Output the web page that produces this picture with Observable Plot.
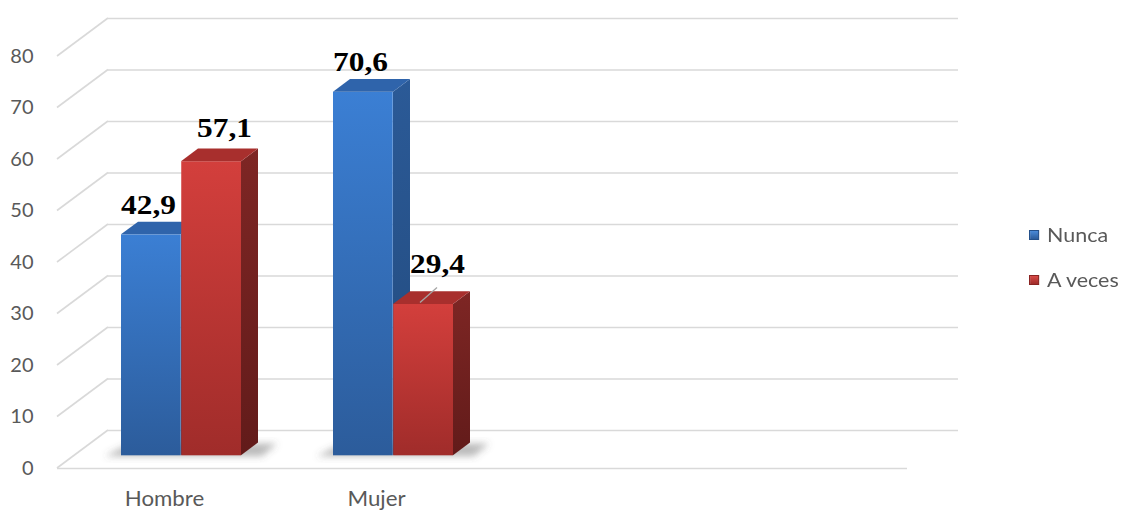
<!DOCTYPE html>
<html><head><meta charset="utf-8">
<script src="https://cdn.jsdelivr.net/npm/d3@7"></script>
<script src="https://cdn.jsdelivr.net/npm/@observablehq/plot@0.6"></script>
<style>
body{margin:0;background:#fff;}
#wrap{position:relative;width:1129px;height:510px;overflow:hidden;}
#legend{position:absolute;left:0;top:0;font-family:Lato,sans-serif;font-size:19px;color:#595959;}
.item{position:absolute;white-space:nowrap;display:flex;align-items:center;transform:scaleX(1.13);transform-origin:0 50%;}
.sw{display:inline-block;width:9px;height:10px;margin-right:7px;box-sizing:border-box;}
</style></head><body>
<svg width="0" height="0" style="position:absolute">
<defs>
<linearGradient id="gBlueFront" x1="0" y1="0" x2="0" y2="1"><stop offset="0" stop-color="#3b7fd4"/><stop offset="1" stop-color="#2c5c9b"/></linearGradient>
<linearGradient id="gBlueSide" x1="0" y1="0" x2="0" y2="1"><stop offset="0" stop-color="#2b5a97"/><stop offset="1" stop-color="#224a7d"/></linearGradient>
<linearGradient id="gRedFront" x1="0" y1="0" x2="0" y2="1"><stop offset="0" stop-color="#d33f3c"/><stop offset="1" stop-color="#a02c2a"/></linearGradient>
<linearGradient id="gRedSide" x1="0" y1="0" x2="0" y2="1"><stop offset="0" stop-color="#7e2624"/><stop offset="1" stop-color="#621b1a"/></linearGradient>
<filter id="fShadow" x="-50%" y="-50%" width="200%" height="200%"><feGaussianBlur stdDeviation="3.5"/></filter>
</defs></svg>
<div id="wrap"><div id="legend"></div></div>
<script>
// ---- data ----
const categories = ["Hombre", "Mujer"];
const categorySlots = ["Hombre", "Mujer", " ", "  "]; // chart has two empty category slots
const series = ["Nunca", "A veces"];
const nunca = [42.9, 70.6];
const aVeces = [57.1, 29.4];
const yTicks = [0, 10, 20, 30, 40, 50, 60, 70, 80];

const data = categories.flatMap((c, i) => [
  {cat: c, series: series[0], value: nunca[i]},
  {cat: c, series: series[1], value: aVeces[i]}
]);

// ---- style / layout ----
const W = 1129, H = 510, ML = 57, MR = 222, MT = 56, MB = 42;
const PAD_IN = 0.433, PAD_OUT = 0.2165;
const WALL_DX = 51, WALL_DY = -38;   // depth of the floor / wall
const BAR_DX = 17, BAR_DY = -12.7;   // depth of a bar
const step = (W - ML - MR) / (categorySlots.length - PAD_IN + 2 * PAD_OUT);
const half = step * (1 - PAD_IN) / 2;
const GRID = "#d9d9d9";
const look = {
  [series[0]]: {front: "url(#gBlueFront)", side: "url(#gBlueSide)", top: "#2f64ab", swatch: "linear-gradient(#4a8ad8,#2c5c9b)", border: "#24508a"},
  [series[1]]: {front: "url(#gRedFront)", side: "url(#gRedSide)", top: "#a82f2d", swatch: "linear-gradient(#d84a46,#a02c2a)", border: "#8a2422"}
};
const fmt = v => v.toFixed(1).replace(".", ",");

const diagonals = (index, scales, values, dims) => {
  const g = d3.create("svg:g").attr("stroke", GRID).attr("stroke-width", 1.6);
  const x0 = dims.marginLeft;
  for (const t of yTicks) {
    const y = scales.y(t);
    g.append("line").attr("x1", x0).attr("y1", y).attr("x2", x0 + WALL_DX).attr("y2", y + WALL_DY);
  }
  return g.node();
};

const shadow = (index, scales) => {
  const g = d3.create("svg:g").attr("filter", "url(#fShadow)").attr("fill", "#555").attr("fill-opacity", 0.4);
  const bw = scales.x.bandwidth();
  const yb = scales.y(0) + BAR_DY;
  for (const c of categories) {
    const xl = scales.x(c) + BAR_DX, xr = xl + bw;
    g.append("polygon").attr("points", [
      [xl - 16, yb + 1], [xl + BAR_DX - 8, yb + BAR_DY + 1],
      [xr + 2 * BAR_DX + 2, yb + BAR_DY + 1], [xr + BAR_DX + 4, yb + 1]
    ].join(" "));
  }
  return g.node();
};

const faces = s => (index, scales) => {
  const g = d3.create("svg:g");
  const bw = scales.x.bandwidth(), h = bw / 2;
  const si = series.indexOf(s);
  for (const d of data.filter(d => d.series === s)) {
    const x0 = scales.x(d.cat) + si * h + BAR_DX, x1 = x0 + h;
    const yt = scales.y(d.value) + BAR_DY, yb = scales.y(0) + BAR_DY;
    g.append("polygon").attr("fill", look[s].side).attr("points",
      [[x1, yb], [x1 + BAR_DX, yb + BAR_DY], [x1 + BAR_DX, yt + BAR_DY], [x1, yt]].join(" "));
    g.append("polygon").attr("fill", look[s].top).attr("points",
      [[x0, yt], [x0 + BAR_DX, yt + BAR_DY], [x1 + BAR_DX, yt + BAR_DY], [x1, yt]].join(" "));
  }
  return g.node();
};

const leader = (index, scales) => {
  const d = data.find(d => d.cat === categories[1] && d.series === series[1]);
  const xc = scales.x(d.cat) + scales.x.bandwidth() / 2, y = scales.y(d.value);
  return d3.create("svg:line").attr("stroke", "#a6a6a6").attr("stroke-width", 1.3)
    .attr("x1", xc + 44).attr("y1", y - 14).attr("x2", xc + 61).attr("y2", y - 29).node();
};

const labelStyle = {text: d => fmt(d.value), lineAnchor: "bottom", fill: "#000",
  fontFamily: "'Liberation Serif','Times New Roman',serif", fontWeight: "bold", fontSize: 28};

const chart = Plot.plot({
  width: W, height: H,
  marginLeft: ML, marginRight: MR, marginTop: MT, marginBottom: MB,
  style: {fontFamily: "Lato, sans-serif", fontSize: "20px", color: "#595959", background: "#fff"},
  x: {domain: categorySlots, paddingInner: PAD_IN, paddingOuter: PAD_OUT, tickSize: 0, tickPadding: 23, label: null},
  y: {domain: [0, 80], ticks: yTicks, tickSize: 0, tickPadding: 24, label: null},
  marks: [
    Plot.ruleY(yTicks, {stroke: GRID, strokeWidth: 1.6, dx: WALL_DX, dy: WALL_DY}),
    diagonals,
    Plot.ruleY([0], {stroke: GRID, strokeWidth: 1.6}),
    shadow,
    Plot.barY(data.filter(d => d.series === series[0]), {x: "cat", y: "value", fill: look[series[0]].front, insetRight: half, dx: BAR_DX, dy: BAR_DY}),
    faces(series[0]),
    Plot.barY(data.filter(d => d.series === series[1]), {x: "cat", y: "value", fill: look[series[1]].front, insetLeft: half, dx: BAR_DX, dy: BAR_DY}),
    faces(series[1]),
    leader,
    Plot.text(data.filter(d => d.series === series[0]), {x: "cat", y: "value", dx: -16, dy: -34, ...labelStyle}),
    Plot.text(data.filter(d => d.series === series[1] && d.cat === categories[0]), {x: "cat", y: "value", dx: 60, dy: -37, ...labelStyle}),
    Plot.text(data.filter(d => d.series === series[1] && d.cat === categories[1]), {x: "cat", y: "value", dx: 61, dy: -44, ...labelStyle})
  ]
});
document.getElementById("wrap").prepend(chart);

// text in the source is slightly widened horizontally
const isBold = t => t.getAttribute("font-weight") === "bold" ||
  (t.parentNode && t.parentNode.getAttribute && t.parentNode.getAttribute("font-weight") === "bold");
chart.querySelectorAll("text").forEach(t => {
  const cats = categories.includes(t.textContent);
  if (isBold(t) || cats) {
    if (cats) t.setAttribute("font-size", "21px");
    const w = t.getComputedTextLength();
    t.setAttribute("textLength", w * (cats ? 1.06 : 1.12));
    t.setAttribute("lengthAdjust", "spacingAndGlyphs");
  }
});

// legend
const legend = document.getElementById("legend");
series.forEach((s, i) => {
  const it = document.createElement("div");
  it.className = "item";
  it.style.left = "1029px";
  it.style.top = (223 + i * 45) + "px";
  it.innerHTML = `<span class="sw" style="background:${look[s].swatch};border:1px solid ${look[s].border}"></span><span>${s}</span>`;
  legend.appendChild(it);
});
</script>
</body></html>
